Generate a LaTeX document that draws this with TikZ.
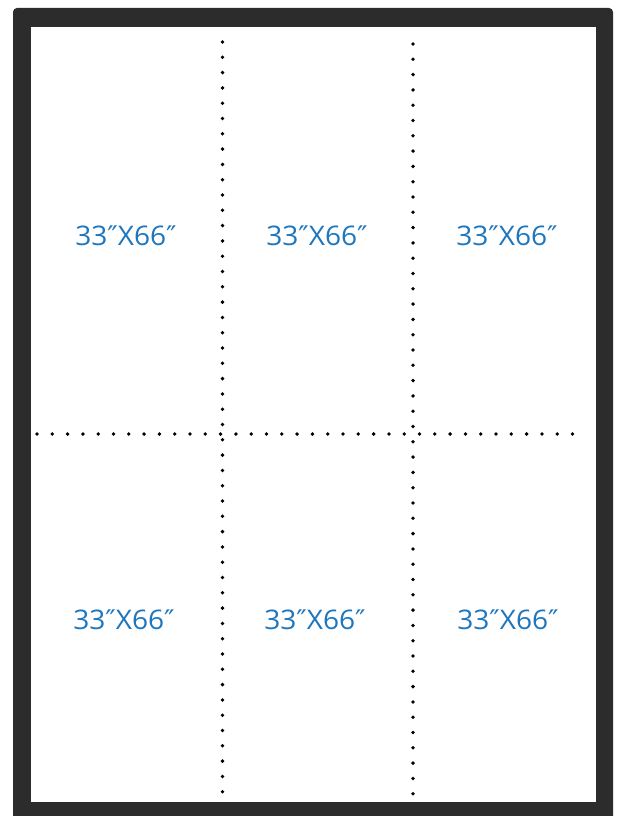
\documentclass[tikz,border=0pt]{standalone}
\usepackage{fontspec}
\setmainfont{Open Sans}
\newfontfamily\primefont{DejaVu Sans}
\definecolor{framegray}{RGB}{44,44,44}
\definecolor{labelblue}{RGB}{30,118,188}
\begin{document}
\begin{tikzpicture}[x=1pt,y=-1pt,
  dotline/.style={line width=3.8pt,line cap=round,dash pattern=on 0pt off 15.3pt,black},
  sizelabel/.style={text=labelblue,font=\fontsize{27}{30}\selectfont,inner sep=0pt,anchor=center,xscale=1.04}]
\useasboundingbox (0,0) rectangle (619,816);
\fill[white] (0,0) rectangle (619,816);
\fill[framegray,rounded corners=4pt] (13,8) rectangle (613,830);
\fill[white] (31,27) rectangle (596,802);
% dotted cut lines
\draw[dotline] (222.5,42) -- (222.5,802);
\draw[dotline] (413,44) -- (413,802);
\draw[dotline] (37,434) -- (582,434);
% labels
\newcommand{\sizetext}{33{\primefont\char"2033}X66{\primefont\char"2033}}
\node[sizelabel] (l1) at (126,236) {\sizetext};
\node[sizelabel] (l2) at (317,236) {\sizetext};
\node[sizelabel] (l3) at (507,236) {\sizetext};
\node[sizelabel] (l4) at (124,620) {\sizetext};
\node[sizelabel] (l5) at (315,620) {\sizetext};
\node[sizelabel] (l6) at (508,620) {\sizetext};
\end{tikzpicture}
\end{document}
